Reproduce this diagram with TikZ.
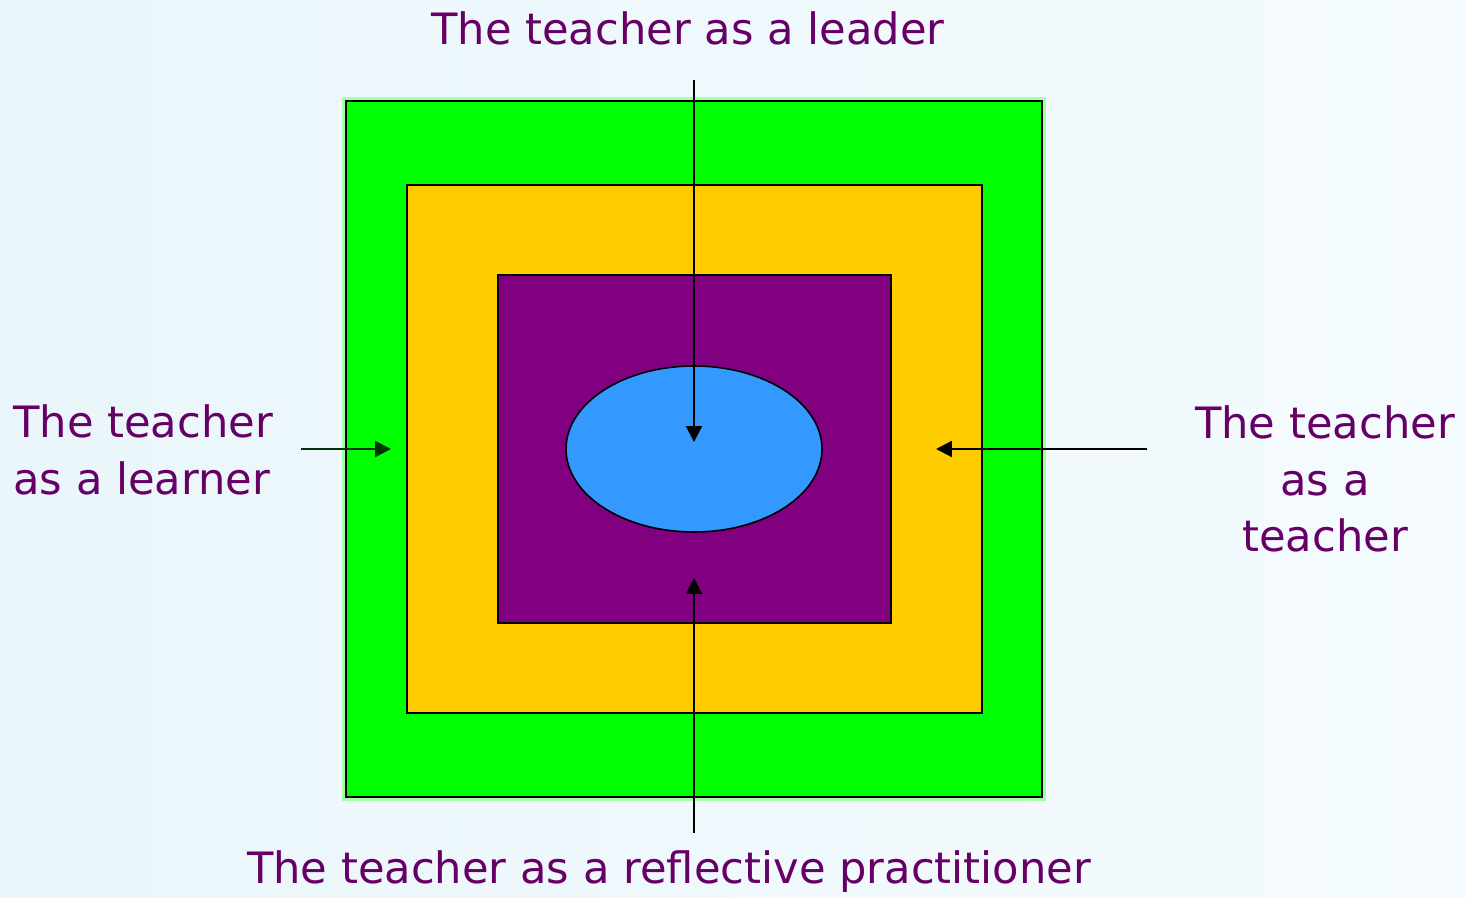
\documentclass[tikz,border=0pt]{standalone}
\usepackage{fontspec}
\setmainfont{DejaVu Sans}
\usetikzlibrary{arrows.meta,shapes.geometric}
\definecolor{bgleft}{RGB}{234,246,251}
\definecolor{bgright}{RGB}{245,251,254}
\definecolor{ringgreen}{RGB}{0,255,0}
\definecolor{ringgold}{RGB}{255,204,0}
\definecolor{ringpurple}{RGB}{128,0,128}
\definecolor{coreblue}{RGB}{51,153,255}
\definecolor{txtpurple}{RGB}{102,0,102}
\tikzset{
   layer/.style={draw=black, line width=0.9pt, inner sep=0pt},
   lbl/.style={text=txtpurple, font=\fontsize{24.6}{32.3}\selectfont, inner sep=0pt},
   pointer/.style={line width=1.3pt, -{Triangle[length=9pt,width=9pt]}}
}
\begin{document}
\begin{tikzpicture}[x=0.02cm, y=-0.02cm]
   % background
   \shade[left color=bgleft, right color=bgright] (0,0) rectangle (1466,898);
   \useasboundingbox (0,0) rectangle (1466,898);

   % nested layers
   \node[fill=ringgreen!35, minimum width=14.1cm, minimum height=14.1cm, inner sep=0pt] (glow) at (694,449) {};
   \node[layer, fill=ringgreen, minimum width=13.92cm, minimum height=13.92cm] (outer) at (694,449) {};
   \node[layer, fill=ringgold, minimum width=11.5cm, minimum height=10.56cm] (middle) at (694.5,449) {};
   \node[layer, fill=ringpurple, minimum width=7.86cm, minimum height=6.96cm] (inner) at (694.5,449) {};
   \node[layer, ellipse, fill=coreblue, minimum width=5.12cm, minimum height=3.32cm] (core) at (694,449) {};

   % labels
   \node[lbl] (leader) at (688,28) {The teacher as a leader};
   \node[lbl, anchor=west, align=left] (learner) at (13,450) {The teacher\\as a learner};
   \node[lbl, align=center] (teacher) at (1325,479) {The teacher\\as a\\teacher};
   \node[lbl] (reflective) at (669,872) {The teacher as a reflective practitioner};

   % pointer ends
   \coordinate (leaderstart) at (694,80);
   \coordinate (leaderend) at (694,442);
   \coordinate (learnerstart) at (301,449);
   \coordinate (learnerend) at (391,449);
   \coordinate (teacherstart) at (1147,449);
   \coordinate (teacherend) at (936,449);
   \coordinate (reflectstart) at (694,833);
   \coordinate (reflectend) at (694,578);

   \draw[pointer] (leaderstart) -- (leaderend);
   \draw[pointer, draw=black!80!green] (learnerstart) -- (learnerend);
   \draw[pointer] (teacherstart) -- (teacherend);
   \draw[pointer] (reflectstart) -- (reflectend);
\end{tikzpicture}
\end{document}
